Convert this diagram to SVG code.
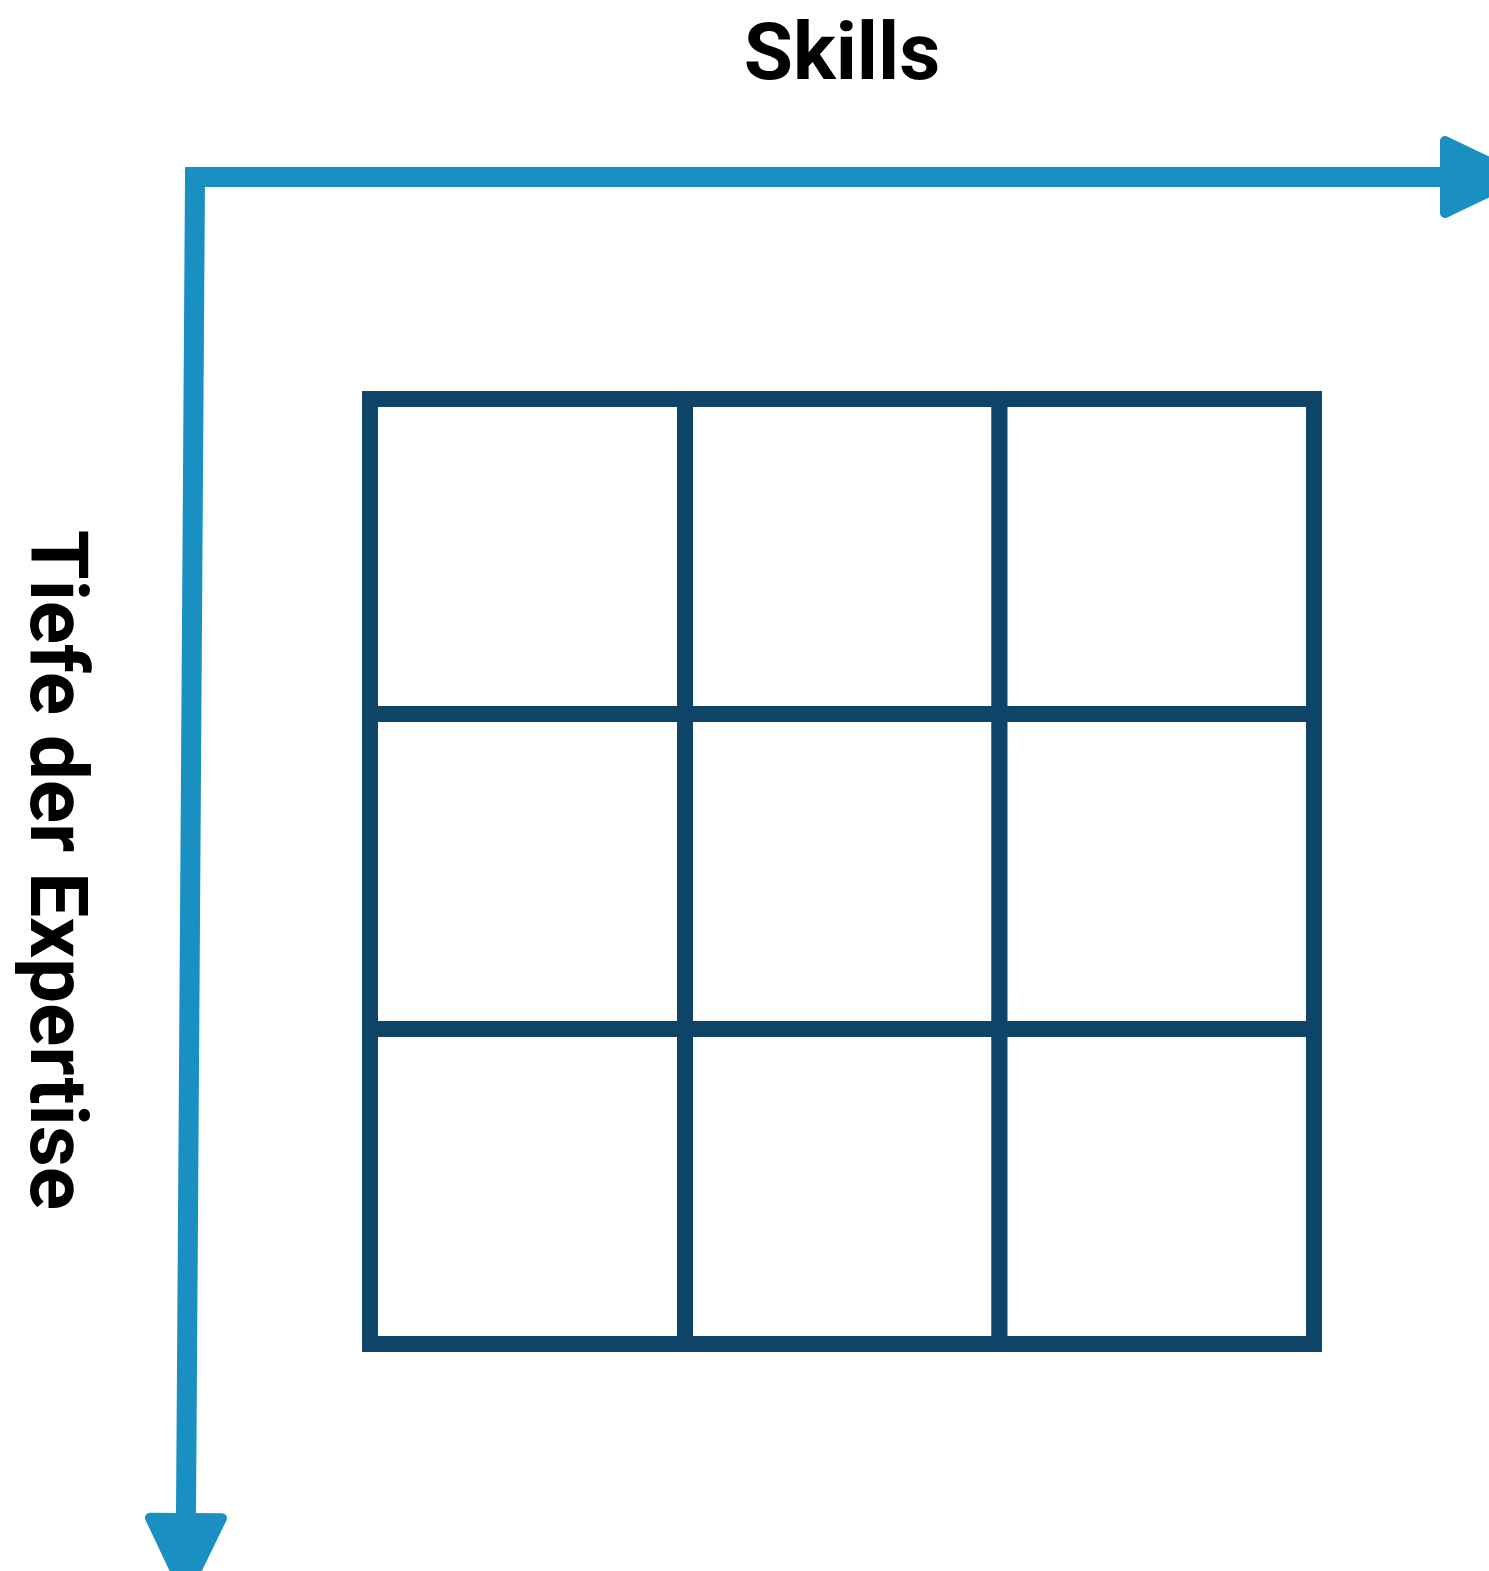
<svg xmlns="http://www.w3.org/2000/svg" width="1489" height="1571" viewBox="0 0 1489 1571">
  <style>
    .label { font-family: Roboto, "Liberation Sans", Arial, sans-serif; font-weight: 700; font-size: 80px; fill: #000000; }
    .cell { fill: #ffffff; stroke: #0D4467; stroke-width: 16; }
    .axis { fill: none; stroke: #1A8FC2; stroke-width: 20; stroke-linejoin: miter; }
  </style>
  <defs>
    <marker id="arrow" markerUnits="userSpaceOnUse" orient="auto-start-reverse" refX="0" refY="0" markerWidth="100" markerHeight="100" viewBox="-10 -50 100 100" overflow="visible">
      <path d="M5,-36 L80,0 L5,36 Z" fill="#1A8FC2" stroke="#1A8FC2" stroke-width="10" stroke-linejoin="round"/>
    </marker>
  </defs>
  <rect width="1489" height="1571" fill="#ffffff"/>

  <g id="connectors">
    <path id="axes" class="axis" d="M186,1513 L195,177 L1440,177" marker-start="url(#arrow)" marker-end="url(#arrow)"/>
  </g>

  <g id="label-skills">
    <text class="label" x="842" y="79" text-anchor="middle">Skills</text>
  </g>
  <g id="label-tiefe">
    <text class="label" transform="translate(31,870) rotate(90)" x="0" y="0" text-anchor="middle">Tiefe der Expertise</text>
  </g>

  <g id="cell-1-1"><rect class="cell" x="370" y="399" width="315" height="315"/></g>
  <g id="cell-1-2"><rect class="cell" x="685" y="399" width="314.5" height="315"/></g>
  <g id="cell-1-3"><rect class="cell" x="999.5" y="399" width="314.5" height="315"/></g>
  <g id="cell-2-1"><rect class="cell" x="370" y="714" width="315" height="315"/></g>
  <g id="cell-2-2"><rect class="cell" x="685" y="714" width="314.5" height="315"/></g>
  <g id="cell-2-3"><rect class="cell" x="999.5" y="714" width="314.5" height="315"/></g>
  <g id="cell-3-1"><rect class="cell" x="370" y="1029" width="315" height="315"/></g>
  <g id="cell-3-2"><rect class="cell" x="685" y="1029" width="314.5" height="315"/></g>
  <g id="cell-3-3"><rect class="cell" x="999.5" y="1029" width="314.5" height="315"/></g>
</svg>
